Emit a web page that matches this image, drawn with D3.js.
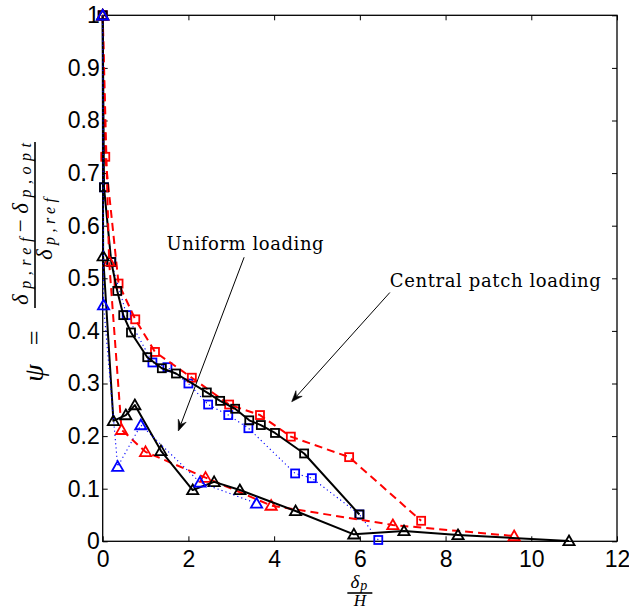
<!DOCTYPE html>
<html>
<head>
<meta charset="utf-8">
<script src="https://cdn.jsdelivr.net/npm/d3@7"></script>
<style>
  body { margin: 0; background: #fff; }
  svg { display: block; }
</style>
</head>
<body>
<svg id="chart" width="629" height="610"></svg>
<script>
// ---- data: psi against delta_p / H ----
// Central patch loading
const patchSolidX  = [0, 0.03, 0.20, 0.34, 0.48, 0.66, 1.04, 1.38, 1.71, 2.43, 2.74, 3.09, 3.42, 3.69, 4.02, 4.70, 5.99];
const patchSolidY  = [1.0, 0.673, 0.531, 0.476, 0.430, 0.397, 0.350, 0.329, 0.319, 0.283, 0.267, 0.252, 0.230, 0.221, 0.206, 0.167, 0.051];
const patchDashX   = [0, 0.06, 0.37, 0.76, 1.22, 2.08, 2.95, 3.67, 4.39, 5.75, 7.43];
const patchDashY   = [1.0, 0.731, 0.490, 0.422, 0.360, 0.311, 0.260, 0.240, 0.199, 0.160, 0.039];
const patchDotX    = [0, 0.03, 0.20, 0.56, 1.16, 1.51, 2.00, 2.46, 2.93, 3.40, 4.49, 4.88, 5.99, 6.43];
const patchDotY    = [1.0, 0.673, 0.531, 0.430, 0.340, 0.331, 0.300, 0.260, 0.240, 0.215, 0.129, 0.120, 0.051, 0.0025];
// Uniform loading
const uniSolidX    = [0, 0.01, 0.25, 0.54, 0.75, 1.36, 2.10, 2.60, 3.20, 4.50, 5.86, 7.03, 8.29, 10.88];
const uniSolidY    = [1.0, 0.542, 0.229, 0.240, 0.259, 0.172, 0.0975, 0.113, 0.0975, 0.0576, 0.0133, 0.0196, 0.012, 0.0006];
const uniDashX     = [0, 0.15, 0.44, 1.00, 2.40, 3.93, 6.77, 9.60];
const uniDashY     = [1.0, 0.532, 0.212, 0.170, 0.121, 0.068, 0.031, 0.010];
const uniDotX      = [0, 0.02, 0.35, 0.89, 2.27, 3.59];
const uniDotY      = [1.0, 0.449, 0.142, 0.221, 0.112, 0.072];

// axis ticks
const xTickValues = [0, 2, 4, 6, 8, 10, 12];
const xTickLabels = ["0", "2", "4", "6", "8", "10", "12"];
const yTickValues = [0, 0.1, 0.2, 0.3, 0.4, 0.5, 0.6, 0.7, 0.8, 0.9, 1];
const yTickLabels = ["0", "0.1", "0.2", "0.3", "0.4", "0.5", "0.6", "0.7", "0.8", "0.9", "1"];

// annotations (data coordinates)
const annUniformText = { label: "Uniform loading", x: 1.49, y: 0.554, len: 157 };
const annUniformArrow = { x1: 3.30, y1: 0.540, x2: 1.764, y2: 0.2097 };
const annPatchText = { label: "Central patch loading", x: 6.70, y: 0.484, len: 211 };
const annPatchArrow = { x1: 6.70, y1: 0.473, x2: 4.41, y2: 0.2654 };

// ---- layout ----
const svg = d3.select("#chart");
const plotL = 102.7, plotR = 617, plotT = 15.3, plotB = 541.3;
const x = d3.scaleLinear().domain([0, 12]).range([plotL, plotR]);
const y = d3.scaleLinear().domain([0, 1]).range([plotB, plotT]);

const tickFont = "'Liberation Sans', Arial, Helvetica, sans-serif";
const mathFont = "'Liberation Serif', 'Times New Roman', serif";

// axes box
svg.append("rect")
  .attr("x", plotL).attr("y", plotT)
  .attr("width", plotR - plotL).attr("height", plotB - plotT)
  .attr("fill", "none").attr("stroke", "#000").attr("stroke-width", 1.3);

function styleAxis(g) {
  g.select(".domain").remove();
  g.selectAll(".tick line").attr("stroke", "#000").attr("stroke-width", 1);
  g.selectAll(".tick text")
    .attr("font-family", tickFont).attr("font-size", 23).attr("fill", "#000");
}

svg.append("g").attr("transform", `translate(0,${plotB})`)
  .call(d3.axisBottom(x).tickValues(xTickValues)
    .tickFormat((d, i) => xTickLabels[i]).tickSize(-5).tickPadding(9))
  .call(styleAxis);
svg.append("g").attr("transform", `translate(0,${plotT})`)
  .call(d3.axisTop(x).tickValues(xTickValues).tickFormat("").tickSize(-5))
  .call(styleAxis);
svg.append("g").attr("transform", `translate(${plotL},0)`)
  .call(d3.axisLeft(y).tickValues(yTickValues)
    .tickFormat((d, i) => yTickLabels[i]).tickSize(-5).tickPadding(3))
  .call(styleAxis);
svg.append("g").attr("transform", `translate(${plotR},0)`)
  .call(d3.axisRight(y).tickValues(yTickValues).tickFormat("").tickSize(-5))
  .call(styleAxis);

// ---- series ----
const line = d3.line().x(d => x(d[0])).y(d => y(d[1]));
const zip = (xs, ys) => xs.map((v, i) => [v, ys[i]]);

// drawn in this order: later curves sit on top
const series = [
  { xs: patchDotX,   ys: patchDotY,   color: "#0000ff", width: 1.1, dash: "1.2,3", marker: "square" },
  { xs: patchDashX,  ys: patchDashY,  color: "#ff0000", width: 2,   dash: "8,5",   marker: "square" },
  { xs: patchSolidX, ys: patchSolidY, color: "#000000", width: 2,   dash: null,    marker: "square" },
  { xs: uniDashX,    ys: uniDashY,    color: "#ff0000", width: 2,   dash: "8,5",   marker: "triangle" },
  { xs: uniSolidX,   ys: uniSolidY,   color: "#000000", width: 2,   dash: null,    marker: "triangle" },
  { xs: uniDotX,     ys: uniDotY,     color: "#0000ff", width: 1.1, dash: "1.2,3", marker: "triangle" }
];

const triPath = "M0,-5.5L5.6,4.2L-5.6,4.2Z";

series.forEach(s => {
  const pts = zip(s.xs, s.ys);
  const g = svg.append("g");
  g.append("path").datum(pts)
    .attr("d", line)
    .attr("fill", "none")
    .attr("stroke", s.color)
    .attr("stroke-width", s.width)
    .attr("stroke-dasharray", s.dash)
    .attr("stroke-linejoin", "round");
  if (s.marker === "square") {
    g.selectAll("rect").data(pts).join("rect")
      .attr("x", d => x(d[0]) - 4).attr("y", d => y(d[1]) - 4)
      .attr("width", 8).attr("height", 8)
      .attr("fill", "none").attr("stroke", s.color).attr("stroke-width", 1.8);
  } else {
    g.selectAll("path.m").data(pts).join("path").attr("class", "m")
      .attr("d", triPath)
      .attr("transform", d => `translate(${x(d[0])},${y(d[1])})`)
      .attr("fill", "none").attr("stroke", s.color).attr("stroke-width", 1.8)
      .attr("stroke-linejoin", "miter");
  }
});

// ---- annotations ----
function arrow(a) {
  const x1 = x(a.x1), y1 = y(a.y1), x2 = x(a.x2), y2 = y(a.y2);
  const ang = Math.atan2(y2 - y1, x2 - x1);
  const L = 11, W = 4.2, notch = 7;
  svg.append("line")
    .attr("x1", x1).attr("y1", y1)
    .attr("x2", x2 - Math.cos(ang) * notch).attr("y2", y2 - Math.sin(ang) * notch)
    .attr("stroke", "#000").attr("stroke-width", 1);
  const c = Math.cos(ang), s = Math.sin(ang);
  const p = (u, v) => [x2 + u * c - v * s, y2 + u * s + v * c];
  const head = [p(0, 0), p(-L, -W), p(-notch, 0), p(-L, W)];
  svg.append("path")
    .attr("d", "M" + head.map(q => q.join(",")).join("L") + "Z")
    .attr("fill", "#000").attr("stroke", "#000").attr("stroke-width", 0.6)
    .attr("stroke-linejoin", "miter");
}
arrow(annUniformArrow);
arrow(annPatchArrow);

[annUniformText, annPatchText].forEach(t => {
  svg.append("text")
    .attr("x", x(t.x)).attr("y", y(t.y))
    .attr("font-family", "'DejaVu Serif', serif")
    .attr("font-size", 18)
    .attr("textLength", t.len)
    .attr("lengthAdjust", "spacing")
    .attr("fill", "#000")
    .text(t.label);
});

// ---- x label: delta_p / H ----
const xl = svg.append("g").attr("transform", `translate(${(plotL + plotR) / 2},0)`);
const xNum = xl.append("text").attr("x", -1).attr("y", 588).attr("text-anchor", "middle")
  .attr("font-family", mathFont).attr("font-style", "italic").attr("font-size", 19);
xNum.append("tspan").text("δ");
xNum.append("tspan").attr("font-size", 14).attr("dy", 1.5).attr("dx", 1).text("p");
xl.append("line").attr("x1", -12.5).attr("x2", 12.5).attr("y1", 593).attr("y2", 593)
  .attr("stroke", "#000").attr("stroke-width", 1.6);
xl.append("text").attr("y", 606).attr("text-anchor", "middle")
  .attr("font-family", mathFont).attr("font-style", "italic").attr("font-size", 17)
  .text("H");

// ---- y label: psi = (delta_p,ref - delta_p,opt) / delta_p,ref ----
const yl = svg.append("g").attr("transform", "translate(35,373) rotate(-90)");
yl.append("text").attr("x", 0).attr("y", 8).attr("text-anchor", "middle")
  .attr("font-family", mathFont).attr("font-style", "italic").attr("font-size", 28)
  .text("ψ");
yl.append("text").attr("x", 35).attr("y", 8).attr("text-anchor", "middle")
  .attr("font-family", mathFont).attr("font-size", 26)
  .text("=");
yl.append("line").attr("x1", 65).attr("x2", 231).attr("y1", 0).attr("y2", 0)
  .attr("stroke", "#000").attr("stroke-width", 1.6);

const num = yl.append("text").attr("x", 149).attr("y", -7).attr("text-anchor", "middle")
  .attr("font-family", mathFont).attr("font-style", "italic").attr("font-size", 23)
  .attr("textLength", 162).attr("lengthAdjust", "spacing");
num.append("tspan").text("δ");
num.append("tspan").attr("font-size", 16).attr("dy", 3).text("p,ref");
num.append("tspan").attr("dy", -3).attr("font-style", "normal").text("−");
num.append("tspan").text("δ");
num.append("tspan").attr("font-size", 16).attr("dy", 3).text("p,opt");

const den = yl.append("text").attr("x", 144).attr("y", 17).attr("text-anchor", "middle")
  .attr("font-family", mathFont).attr("font-style", "italic").attr("font-size", 23)
  .attr("textLength", 62).attr("lengthAdjust", "spacing");
den.append("tspan").text("δ");
den.append("tspan").attr("font-size", 16).attr("dy", 3).text("p,ref");
</script>
</body>
</html>
